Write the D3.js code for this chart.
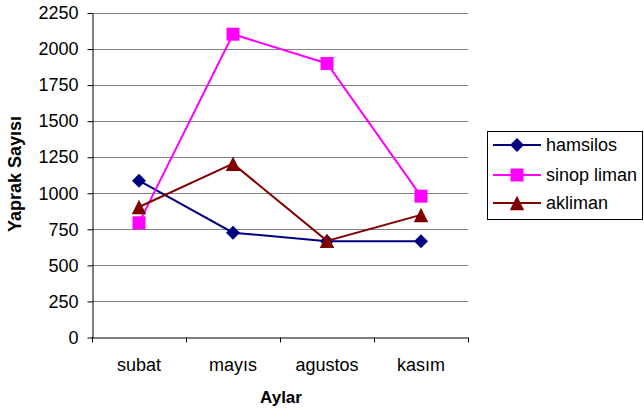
<!DOCTYPE html>
<html><head><meta charset="utf-8">
<script src="https://cdn.jsdelivr.net/npm/d3@7"></script>
<style>body{margin:0;background:#fff}svg{display:block}text{font-family:"Liberation Sans",Arial,sans-serif}</style>
</head><body><svg id="c" width="644" height="414"></svg>
<script>
const categories = ["subat","mayıs","agustos","kasım"];
const hamsilos = [1087, 727, 668, 668];
const sinopLiman = [795, 2103, 1900, 980];
const akliman = [905, 1205, 670, 850];
const yTicks = [0,250,500,750,1000,1250,1500,1750,2000,2250];
const seriesNames = ["hamsilos","sinop liman","akliman"];
const seriesColors = ["#000080","#FF00FF","#800000"];
const series = [hamsilos, sinopLiman, akliman];

// box-sized marker shapes (size = box side squared)
const diamond = {draw(c, size){ const r = Math.sqrt(size)/2; c.moveTo(0,-r); c.lineTo(r,0); c.lineTo(0,r); c.lineTo(-r,0); c.closePath(); }};
const square = {draw(c, size){ const r = Math.sqrt(size)/2; c.moveTo(-r,-r); c.lineTo(r,-r); c.lineTo(r,r); c.lineTo(-r,r); c.closePath(); }};
const triangle = {draw(c, size){ const r = Math.sqrt(size)/2; c.moveTo(0,-r); c.lineTo(r,r); c.lineTo(-r,r); c.closePath(); }};
const seriesSymbols = [diamond, square, triangle];
const sizes = [196, 169, 210];

const FF = '"Liberation Sans",Arial,sans-serif';
const svg = d3.select("#c");
const L = 92, R = 468, T = 13, B = 337.5;
const x = d3.scaleBand().domain(categories).range([L, R]);
const y = d3.scaleLinear().domain([0, 2250]).range([B, T]);

// gridlines
svg.append("g").selectAll("line").data(yTicks.filter(d=>d>0)).join("line")
  .attr("x1", L).attr("x2", R).attr("y1", d=>Math.round(y(d))+0.5).attr("y2", d=>Math.round(y(d))+0.5)
  .attr("stroke", "#808080").attr("stroke-width", 1);

// y axis
const ya = svg.append("g").attr("transform", `translate(${L+0.5},0)`)
  .call(d3.axisLeft(y).tickValues(yTicks).tickFormat(d3.format("d")).tickSize(5).tickSizeOuter(0).tickPadding(9));
ya.attr("font-size", null).attr("font-family", null);
ya.select(".domain").attr("stroke", "#000");
ya.selectAll(".tick line").attr("stroke", "#000");
ya.selectAll("text").attr("font-size", 18).attr("fill", "#000").style("font-family", FF);

// x axis
const xa = svg.append("g").attr("transform", `translate(0,${B})`)
  .call(d3.axisBottom(x).tickSize(0).tickPadding(21));
xa.attr("font-size", null).attr("font-family", null);
xa.select(".domain").attr("stroke", "#000").attr("d", `M${L},0.5H${R}`);
xa.selectAll("text").attr("font-size", 18).attr("fill", "#000").style("font-family", FF);
const bounds = categories.map(c=>x(c)).concat([R]);
xa.append("g").selectAll("line").data(bounds).join("line")
  .attr("x1", d=>Math.round(d)+0.5).attr("x2", d=>Math.round(d)+0.5).attr("y1", 0).attr("y2", 5).attr("stroke", "#000");

// lines & markers
const line = d3.line().x((d,i)=>x(categories[i]) + x.bandwidth()/2).y(d=>y(d));
series.forEach((s, k) => {
  svg.append("path").datum(s).attr("d", line).attr("fill","none")
    .attr("stroke", seriesColors[k]).attr("stroke-width", 2);
  svg.append("g").selectAll("path").data(s).join("path")
    .attr("d", d3.symbol().type(seriesSymbols[k]).size(sizes[k]))
    .attr("transform", (d,i)=>`translate(${x(categories[i]) + x.bandwidth()/2},${y(d)})`)
    .attr("fill", seriesColors[k]);
});

// axis titles
svg.append("text").attr("x", 281).attr("y", 403).attr("text-anchor","middle")
  .attr("font-size", 17).attr("font-weight","bold").text("Aylar");
svg.append("text").attr("transform", "translate(20.5,174) rotate(-90)").attr("text-anchor","middle")
  .attr("font-size", 18).attr("font-weight","bold").text("Yaprak Sayısı");

// legend
const lg = svg.append("g");
lg.append("rect").attr("x", 487.5).attr("y", 131.5).attr("width", 155).attr("height", 88)
  .attr("fill","#fff").attr("stroke","#000");
const ly = [145, 175, 203];
seriesNames.forEach((n,k)=>{
  lg.append("line").attr("x1",493).attr("x2",541).attr("y1",ly[k]).attr("y2",ly[k])
    .attr("stroke",seriesColors[k]).attr("stroke-width",2);
  lg.append("path").attr("d", d3.symbol().type(seriesSymbols[k]).size(sizes[k]))
    .attr("transform",`translate(517,${ly[k]})`).attr("fill",seriesColors[k]);
  lg.append("text").attr("x",546).attr("y",ly[k]+6).attr("font-size",18).text(n);
});
</script></body></html>
